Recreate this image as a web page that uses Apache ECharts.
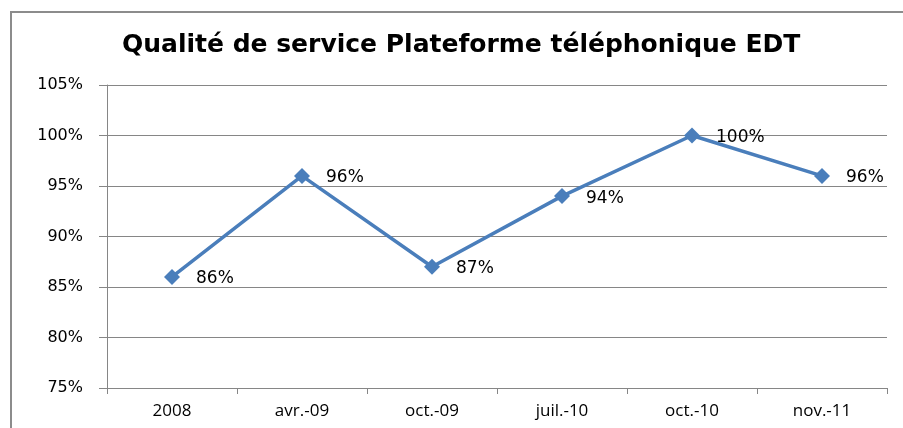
<!DOCTYPE html>
<html>
<head>
<meta charset="utf-8">
<script src="https://cdn.jsdelivr.net/npm/echarts@6/dist/echarts.min.js"></script>
<style>
  html, body { margin: 0; padding: 0; background: #fff; }
  #chart { width: 903px; height: 428px; }
</style>
</head>
<body>
<div id="chart"></div>
<script>
const chartTitle = 'Qualité de service Plateforme téléphonique EDT'
const categories = ['2008', 'avr.-09', 'oct.-09', 'juil.-10', 'oct.-10', 'nov.-11']
const qualityValues = [86, 96, 87, 94, 100, 96]
const yMin = 75
const yMax = 105
const yStep = 5

const chart = echarts.init(document.getElementById('chart'), null, { renderer: 'canvas' })

const option = {
    animation: false,
    backgroundColor: '#fff',
    title: {
        text: chartTitle,
        left: 117,
        top: 28,
        textStyle: {
            fontFamily: 'DejaVu Sans',
            fontWeight: 'bold',
            fontSize: 25,
            color: '#000'
        }
    },
    graphic: [{
        type: 'rect',
        shape: { x: 11, y: 12, width: 920, height: 440 },
        style: { fill: 'none', stroke: '#8c8c8c', lineWidth: 2 },
        silent: true
    }],
    grid: {
        left: 107,
        right: 16,
        top: 85,
        bottom: 40,
        containLabel: false
    },
    xAxis: {
        type: 'category',
        data: categories,
        boundaryGap: true,
        axisLine: { lineStyle: { color: '#868686', width: 1 } },
        axisTick: { show: true, length: 6, lineStyle: { color: '#868686' } },
        axisLabel: {
            fontFamily: 'Open Sans',
            fontSize: 17,
            color: '#000',
            margin: 15
        }
    },
    yAxis: {
        type: 'value',
        min: yMin,
        max: yMax,
        interval: yStep,
        axisLine: { show: true, lineStyle: { color: '#868686', width: 1 } },
        axisTick: { show: true, length: 8, lineStyle: { color: '#868686' } },
        splitLine: { show: true, lineStyle: { color: '#868686', width: 1 } },
        axisLabel: {
            formatter: v => v + '%',
            fontFamily: 'DejaVu Sans',
            fontSize: 16,
            color: '#000',
            margin: 24
        }
    },
    series: [{
        type: 'line',
        data: qualityValues,
        symbol: 'diamond',
        symbolSize: 16,
        lineStyle: { color: '#4a7ebb', width: 3.5 },
        itemStyle: { color: '#4a7ebb' },
        label: {
            show: true,
            position: 'right',
            distance: 16,
            offset: [0, 2],
            formatter: p => p.value + '%',
            fontFamily: 'DejaVu Sans',
            fontSize: 17,
            color: '#000'
        }
    }]
}

chart.setOption(option, true)
</script>
</body>
</html>
